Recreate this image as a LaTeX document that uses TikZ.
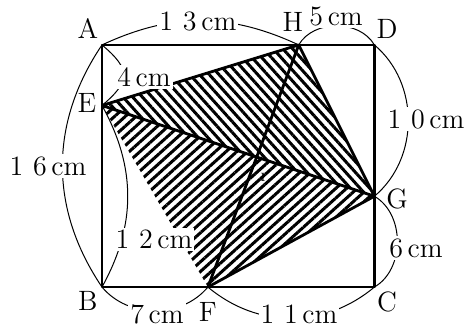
\documentclass[tikz,border=0pt]{standalone}
\usetikzlibrary{patterns.meta}

\begin{document}
\begin{tikzpicture}[
    x=7.57pt,y=7.57pt,
    edge/.style={line width=1.4pt,line join=round},
    dim/.style={line width=0.5pt},
    pt/.style={font=\fontsize{14}{14}\selectfont,inner sep=0pt},
    len/.style={font=\fontsize{14}{14}\selectfont,fill=white,inner sep=1pt},
    hatchup/.style={pattern={Lines[angle=42,distance=3.6pt,line width=1.5pt]}},
    hatchdn/.style={pattern={Lines[angle=-48,distance=3.6pt,line width=1.5pt]}},
]
\useasboundingbox (-6.74,-2.58) rectangle (24.12,18.97);
% corners and points on the sides
\coordinate (A) at (0,16);
\coordinate (D) at (18,16);
\coordinate (B) at (0,0);
\coordinate (C) at (18,0);
\coordinate (E) at (0,12);
\coordinate (H) at (13,16);
\coordinate (G) at (18,6);
\coordinate (F) at (7,0);
\node[font=\fontsize{6}{6}\selectfont,inner sep=0pt] (I) at (10.64,7.27) {I};
% shaded triangles
\fill[hatchdn] (E)--(H)--(G)--cycle;
\fill[hatchup] (E)--(G)--(F)--cycle;
\draw[edge] (A)--(D)--(C)--(B)--cycle;
\draw[edge] (E)--(H)--(G)--(F) (E)--(G) (H)--(F);
% length arcs
\draw[dim] (A) to[bend left=25] (H);
\draw[dim] (H) to[bend left=60] (D);
\draw[dim] (A) to[out=-40,in=40,looseness=1.6] (E);
\draw[dim] (A) to[bend right=34] (B);
\draw[dim] (E) to[bend left=29] (B);
\draw[dim] (B) to[bend right=50] (F);
\draw[dim] (F) to[bend right=40] (C);
\draw[dim] (D) to[bend left=50] (G);
\draw[dim] (G) to[bend left=60] (C);
% labels
\node[pt] (lA) at (-0.93,17.08) {A};
\node[pt] (lH) at (12.62,17.51) {H};
\node[pt] (lD) at (18.84,17.05) {D};
\node[pt] (lE) at (-0.99,12.16) {E};
\node[pt] (lB) at (-0.93,-0.93) {B};
\node[pt] (lF) at (7.0,-1.65) {F};
\node[pt] (lC) at (18.84,-0.99) {C};
\node[pt] (lG) at (19.5,5.82) {G};
\node[len] (dAH) at (6.34,17.58) {1\hspace{.35em}3\,cm};
\node[len] (dHD) at (15.47,17.91) {5\,cm};
\node[len] (dAE) at (2.78,13.88) {4\,cm};
\node[len] (dAB) at (-3.57,8.0) {1\hspace{.35em}6\,cm};
\node[len] (dEB) at (3.44,3.17) {1\hspace{.35em}2\,cm};
\node[len] (dBF) at (3.64,-1.78) {7\,cm};
\node[len] (dFC) at (13.02,-1.78) {1\hspace{.35em}1\,cm};
\node[len] (dDG) at (21.41,11.10) {1\hspace{.35em}0\,cm};
\node[len] (dGC) at (20.75,2.58) {6\,cm};
\end{tikzpicture}
\end{document}
